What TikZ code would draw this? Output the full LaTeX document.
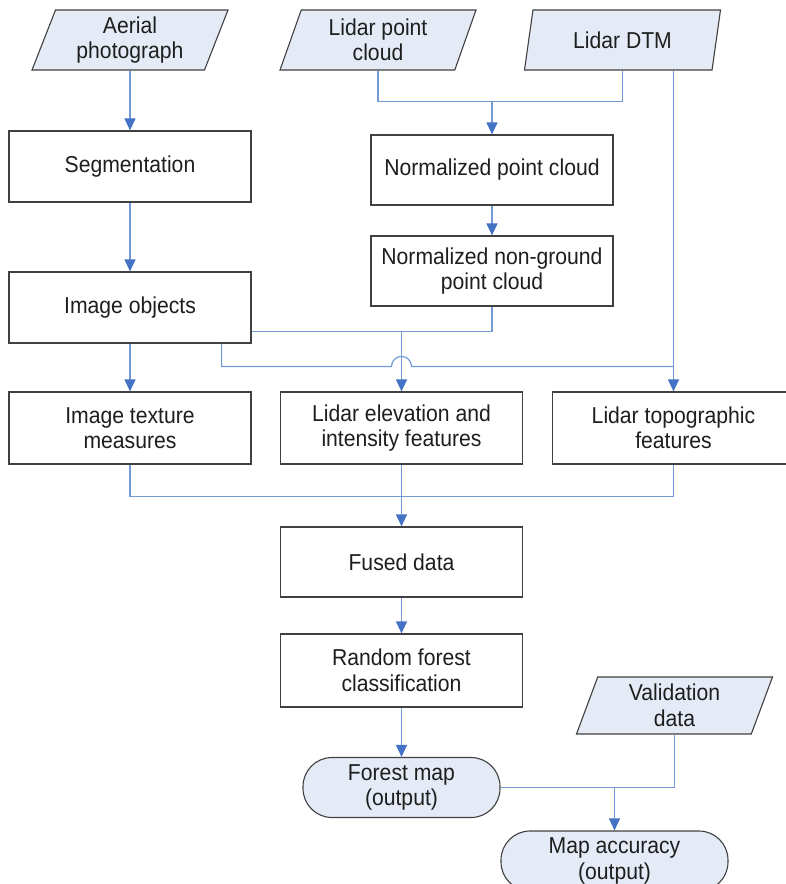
\documentclass[tikz,border=0pt]{standalone}
\usepackage{fontspec}
\setmainfont{Liberation Sans}[FakeStretch=0.92]
\usetikzlibrary{arrows.meta,calc,shapes.geometric}
\definecolor{linkblue}{HTML}{7399D6}
\definecolor{tipblue}{HTML}{4472C4}
\definecolor{iofill}{HTML}{E5EBF6}
\definecolor{edgegray}{HTML}{404040}
\definecolor{txt}{HTML}{1E1E1E}
\begin{document}
\begin{tikzpicture}[x=1pt,y=-1pt,
  every node/.style={font=\fontsize{23}{25.5}\selectfont, text=txt, align=center, inner sep=0pt},
  procbox/.style={draw=edgegray, line width=1.2pt, fill=white, minimum width=242pt, minimum height=71pt},
  iobox/.style={trapezium, trapezium left angle=63.4, trapezium right angle=116.6,
     trapezium stretches body, draw=edgegray, line width=1.1pt, fill=iofill, minimum height=60pt},
  termbox/.style={draw=edgegray, line width=1.1pt, fill=iofill, rounded corners=29pt, minimum height=60pt},
  conn/.style={draw=linkblue, line width=1.2pt},
  arr/.style={conn, -{Triangle[width=11pt,length=12pt,color=tipblue]}}
]
\useasboundingbox (0,0) rectangle (786,884);

% inputs
\node[iobox, minimum width=196pt] (aerial) at (130,40) {Aerial\\photograph};
\node[iobox, minimum width=196pt] (lpc) at (378,40) {Lidar point\\cloud};
\node[iobox, minimum width=196pt] (dtm) at (622.5,40) {Lidar DTM};

% processes
\node[procbox] (seg) at (130,166.5) {Segmentation};
\node[procbox, minimum height=70pt] (npc) at (492,170) {Normalized point cloud};
\node[procbox, minimum height=70pt] (nng) at (492,271) {Normalized non-ground\\point cloud};
\node[procbox] (io) at (130,307.5) {Image objects};
\node[procbox, minimum height=72pt] (itm) at (130,428) {Image texture\\measures};
\node[procbox, minimum height=72pt] (lei) at (401.5,428) {Lidar elevation and\\intensity features};
\node[procbox, minimum height=72pt] (topo) at (673.5,428) {Lidar topographic\\features};
\node[procbox, minimum height=70pt] (fused) at (401.5,562) {Fused data};
\node[procbox, minimum height=73pt] (rf) at (401.5,670.5) {Random forest\\classification};

% outputs
\node[termbox, minimum width=197pt] (fm) at (401.5,787.5) {Forest map\\(output)};
\node[iobox, minimum width=196pt, minimum height=57pt] (val) at (674.5,705.5) {Validation\\data};
\node[termbox, minimum width=227pt] (acc) at (614.5,861) {Map accuracy\\(output)};

% connectors
\draw[arr] (aerial.south -| seg.north) -- (seg.north);
\draw[arr] (seg.south) -- (io.north);

\coordinate (t) at ($(npc.north)+(0,-33)$);
\draw[conn] (lpc.south) |- (t) -| (dtm.south);
\draw[arr] (t) -- (npc.north);
\draw[arr] (npc.south) -- (nng.north);
\draw[arr] (dtm.south -| topo.north) -- (topo.north);

\draw[arr] (io.south) -- (itm.north);
\coordinate (m) at ($(io.south east)+(0,-12)$);
\draw[conn] (m) -| (nng.south);
\draw[arr] (lei.north |- m) -- (lei.north);

\coordinate (h0) at ($(io.south east)+(-30,0)$);
\coordinate (hop) at ($(lei.north)+(0,-25)$);
\draw[conn] (h0) |- ($(hop)+(-10,0)$) arc[start angle=180, end angle=0, radius=10pt] -- (topo.north |- hop);

\coordinate (b) at ($(fused.north)+(0,-30)$);
\draw[conn] (itm.south) |- (b) -| (topo.south);
\draw[arr] (lei.south) -- (fused.north);
\draw[arr] (fused.south) -- (rf.north);
\draw[arr] (rf.south) -- (fm.north);

\draw[conn] (val.south) |- (fm.east);
\draw[arr] (acc.north |- fm.east) -- (acc.north);
\end{tikzpicture}
\end{document}
